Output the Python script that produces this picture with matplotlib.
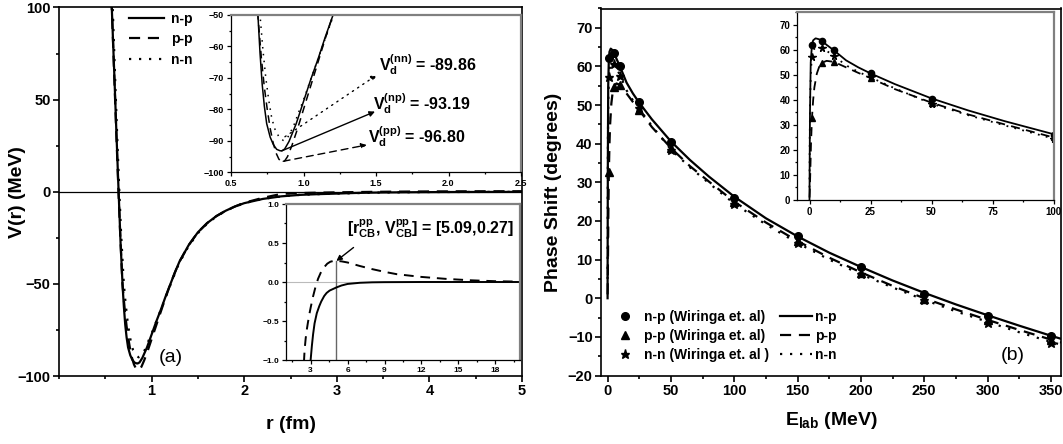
import matplotlib
matplotlib.use('Agg')
import matplotlib.pyplot as plt
from matplotlib.lines import Line2D
from matplotlib.ticker import MultipleLocator

plt.rcParams['font.family'] = ['Liberation Sans', 'DejaVu Sans']
plt.rcParams['font.weight'] = 'bold'
plt.rcParams['axes.labelweight'] = 'bold'
plt.rcParams['mathtext.fontset'] = 'custom'
plt.rcParams['mathtext.rm'] = 'Liberation Sans'
plt.rcParams['mathtext.bf'] = 'Liberation Sans:bold'
plt.rcParams['mathtext.it'] = 'Liberation Sans:italic'

# ---- panel (a): potentials V(r) ----
r_np = [0.55, 0.57, 0.60, 0.62, 0.64, 0.665, 0.688, 0.70, 0.715, 0.73, 0.746, 0.77, 0.792,
        0.815, 0.838, 0.85, 0.87, 0.90, 0.95, 1.0, 1.05, 1.1, 1.15, 1.2, 1.25, 1.3, 1.4,
        1.5, 1.6, 1.7, 1.8, 1.9, 2.0, 2.2, 2.4, 2.6, 2.8, 3.0, 3.1, 3.2, 3.32, 3.5, 3.7,
        3.86, 4.1, 4.3, 4.54, 5.09, 5.5, 6.0, 7.0, 8.0, 9.0, 12.0, 20.0]
v_np = [125, 100, 60, 32, 5, -28, -52, -62, -72, -79, -84.5, -88.8, -91.2,
        -92.7, -93.15, -93.19, -92.6, -90.2, -84.5, -77.5, -70.5, -64, -57, -50.5, -44, -38, -29,
        -22, -17, -13.2, -10.3, -8.0, -6.2, -3.9, -2.5, -1.7, -1.3, -1.0, -0.82, -0.67, -0.53, -0.40, -0.31,
        -0.25, -0.18, -0.14, -0.11, -0.07, -0.045, -0.025, -0.01, -0.004, -0.002, 0.0, 0.0]

r_pp = [0.55, 0.57, 0.60, 0.62, 0.64, 0.66, 0.685, 0.71, 0.73, 0.75, 0.77, 0.79, 0.81,
        0.83, 0.85, 0.87, 0.89, 0.92, 0.96, 1.0, 1.05, 1.1, 1.15, 1.2, 1.25, 1.3, 1.4,
        1.5, 1.6, 1.7, 1.8, 1.9, 2.0, 2.2, 2.4, 2.51, 2.6, 2.7, 2.78, 2.9, 3.0, 3.19, 3.4,
        3.6, 3.85, 4.1, 4.35, 4.6, 4.85, 5.09, 5.5, 6.0, 7.0, 8.0, 9.0, 10.0, 12.0, 14.0,
        16.0, 18.0, 20.0]
v_pp = [125, 100, 58, 30, 3, -22, -50, -64, -73, -80, -86, -90.5, -93.8,
        -95.8, -96.8, -96.4, -95, -91.5, -86, -80, -72.5, -65, -57.5, -50.5, -44, -38, -29,
        -22, -17, -13.2, -10.3, -8.0, -6.0, -3.3, -1.2, -0.87, -0.72, -0.6, -0.52, -0.41, -0.33, -0.19, -0.06,
        0.04, 0.13, 0.19, 0.235, 0.26, 0.27, 0.27, 0.265, 0.25, 0.205, 0.165, 0.13, 0.10, 0.065, 0.04,
        0.022, 0.01, 0.005]

r_nn = [0.56, 0.58, 0.61, 0.63, 0.65, 0.67, 0.70, 0.72, 0.74, 0.76, 0.78, 0.80, 0.83,
        0.86, 0.89, 0.93, 0.97, 1.0, 1.05, 1.1, 1.15, 1.2, 1.25, 1.3, 1.4, 1.5, 1.6, 1.7,
        1.8, 1.9, 2.0, 2.2, 2.4, 2.6, 2.8, 3.0, 3.5, 4.0, 5.0]
v_nn = [125, 100, 56, 28, 2, -22, -50, -61, -70, -77, -82.5, -86, -88.7,
        -89.86, -89, -85.5, -80.5, -77, -70.5, -64, -57.5, -51, -44.5, -38.5, -29.5, -22.5, -17.3, -13.4,
        -10.4, -8.1, -6.2, -3.9, -2.5, -1.7, -1.3, -1.0, -0.4, -0.15, -0.05]

# ---- panel (b): 1S0 phase shifts ----
E_np = [0, 0.05, 0.2, 0.5, 1, 1.5, 2.5, 4, 5, 7, 10, 15, 20, 25, 35, 50, 65, 80, 100,
        125, 150, 175, 200, 225, 250, 275, 300, 325, 350, 360]
d_np = [0, 12, 35, 55, 62, 63.8, 64.6, 64.2, 63.7, 62, 59.8, 55.8, 53, 50.6, 46.3, 40.6,
        35.8, 31.5, 26.3, 20.7, 16.0, 11.8, 8.1, 4.6, 1.4, -1.6, -4.4, -7.1, -9.7, -10.7]

E_pp = [0, 0.1, 0.3, 0.6, 1, 1.5, 2, 3, 4, 5, 7, 10, 15, 20, 25, 35, 50, 65, 80, 100,
        125, 150, 175, 200, 225, 250, 275, 300, 325, 350, 360]
d_pp = [1, 3, 10, 22, 32.7, 40, 45, 50.5, 53.3, 54.8, 55.6, 55.2, 53, 50.8, 48.7, 44.3,
        38.9, 34.2, 30.2, 25.0, 19.6, 14.8, 10.5, 6.7, 3.2, 0.0, -2.9, -5.6, -8.2, -10.7, -11.6]

E_nn = [0, 0.1, 0.3, 0.6, 1, 2, 3, 5, 7, 10, 15, 20, 25, 35, 50, 65, 80, 100,
        125, 150, 175, 200, 225, 250, 275, 300, 325, 350, 360]
d_nn = [5, 25, 42, 52, 57.3, 60.5, 61.2, 60.9, 59.6, 57.6, 53.8, 51.2, 49.0, 44.6, 38.5,
        33.9, 29.8, 24.5, 19.1, 14.3, 10.0, 6.2, 2.8, -0.4, -3.4, -6.1, -8.8, -11.3, -12.2]

# Wiringa et al. points
E_w = [1, 5, 10, 25, 50, 100, 150, 200, 250, 300, 350]
np_w = [62.1, 63.6, 60.0, 50.9, 40.5, 26.0, 16.0, 8.0, 1.2, -4.5, -9.7]
pp_w = [32.7, 54.8, 55.2, 48.7, 38.9, 25.0, 14.8, 6.6, -0.3, -5.7, -10.8]
nn_w = [57.2, 60.7, 57.6, 49.2, 38.5, 24.5, 14.3, 6.2, -0.5, -6.4, -11.6]

W, H = 1063, 444


def box(l, t, r, b):
    return [l / W, 1 - b / H, (r - l) / W, (b - t) / H]


def style(ax, size, major=4, minor=2, lw=1.0):
    ax.tick_params(which='both', direction='out', width=lw, labelsize=size,
                   top=False, right=False, pad=2)
    ax.tick_params(which='major', length=major)
    ax.tick_params(which='minor', length=minor)
    for s in ax.spines.values():
        s.set_linewidth(lw)


def inset_frame(ax):
    for s in ('top', 'right'):
        ax.spines[s].set_color('#808080')
        ax.spines[s].set_linewidth(1.6)


DASH = (5, 3.5)
DOT = (1, 3.5)


def potentials(ax, lw):
    ax.plot(r_np, v_np, color='k', lw=lw)
    ax.plot(r_pp, v_pp, color='k', lw=lw, dashes=DASH)
    ax.plot(r_nn, v_nn, color='k', lw=lw, dashes=DOT)


def phases(ax, lw, ms):
    ax.plot(E_np, d_np, color='k', lw=lw)
    ax.plot(E_pp, d_pp, color='k', lw=lw, dashes=DASH)
    ax.plot(E_nn, d_nn, color='k', lw=lw, dashes=DOT)
    ax.plot(E_w, np_w, 'o', color='k', ms=ms)
    ax.plot(E_w, pp_w, '^', color='k', ms=ms)
    ax.plot(E_w, nn_w, '*', color='k', ms=ms + 1)


fig = plt.figure(figsize=(W / 100, H / 100), dpi=100)

# ---------------- (a) ----------------
ax1 = fig.add_axes(box(59, 7.5, 522, 376))
ax1.axhline(0, color='k', lw=0.9)
potentials(ax1, 1.6)
ax1.set_xlim(0, 5)
ax1.set_ylim(-100, 100)
ax1.set_xticks([1, 2, 3, 4, 5])
ax1.xaxis.set_minor_locator(MultipleLocator(0.5))
ax1.set_yticks([-100, -50, 0, 50, 100])
ax1.yaxis.set_minor_locator(MultipleLocator(25))
style(ax1, 10.5, lw=1.2)
ax1.set_xlabel('r (fm)', fontsize=14, labelpad=13)
ax1.set_ylabel('V(r) (MeV)', fontsize=14)
ax1.yaxis.set_label_coords(-0.071, 0.5)
ax1.text(171, 444 - 357, '(a)', transform=None, fontsize=14, fontweight='normal',
         ha='center', va='center')
ax1.legend(handles=[Line2D([], [], color='k', lw=1.6),
                    Line2D([], [], color='k', lw=1.6, dashes=DASH),
                    Line2D([], [], color='k', lw=1.6, dashes=DOT)],
           labels=['n-p', 'p-p', 'n-n'], loc='upper left',
           bbox_to_anchor=(129 / W, 1 - 12 / H), bbox_transform=fig.transFigure,
           frameon=False, fontsize=10, handlelength=2.5, handletextpad=0.5,
           labelspacing=0.45, borderpad=0, borderaxespad=0)

# inset: potential minimum
ins1 = fig.add_axes(box(231, 15, 521, 172.3))
potentials(ins1, 1.1)
ins1.set_xlim(0.5, 2.5)
ins1.set_ylim(-100, -50)
ins1.xaxis.set_major_locator(MultipleLocator(0.5))
ins1.xaxis.set_minor_locator(MultipleLocator(0.25))
ins1.yaxis.set_major_locator(MultipleLocator(10))
ins1.yaxis.set_minor_locator(MultipleLocator(5))
ins1.xaxis.set_major_formatter('{x:.1f}')
style(ins1, 6.5, major=3, minor=1.5, lw=0.9)
inset_frame(ins1)
labels = [(r'V$_\mathbf{d}^\mathbf{(nn)}$ = -89.86', (1.52, -65.9), (0.872, -88.7), (1.505, -69.1), DOT),
          (r'V$_\mathbf{d}^\mathbf{(np)}$ = -93.19', (1.48, -78.1), (0.85, -93.19), (1.493, -80.7), None),
          (r'V$_\mathbf{d}^\mathbf{(pp)}$ = -96.80', (1.447, -88.7), (0.86, -96.5), (1.436, -91.3), DASH)]
for txt, tpos, p0, p1, ls in labels:
    ins1.text(tpos[0], tpos[1], txt, fontsize=11.5, ha='left', va='center')
    props = dict(arrowstyle='-|>', color='k', lw=1.0, mutation_scale=8,
                 shrinkA=0, shrinkB=0)
    if ls is not None:
        props['linestyle'] = (0, ls)
    ins1.annotate('', xy=p1, xytext=p0, arrowprops=props)

# inset: Coulomb barrier
ins2 = fig.add_axes(box(286, 204, 520, 360))
ins2.axhline(0, color='#bbbbbb', lw=0.8)
ins2.plot([5.09, 5.09], [-1, 0.27], color='#666666', lw=1.0)
ins2.plot(r_np, v_np, color='k', lw=1.4)
ins2.plot(r_pp, v_pp, color='k', lw=1.4, dashes=DASH)
ins2.set_xlim(1, 20)
ins2.set_ylim(-1, 1)
ins2.set_xticks([3, 6, 9, 12, 15, 18])
ins2.xaxis.set_minor_locator(MultipleLocator(1.5))
ins2.yaxis.set_major_locator(MultipleLocator(0.5))
ins2.yaxis.set_minor_locator(MultipleLocator(0.25))
ins2.yaxis.set_major_formatter('{x:.1f}')
style(ins2, 6, major=3, minor=1.5, lw=0.9)
inset_frame(ins2)
ins2.annotate(r'[r$_\mathbf{CB}^\mathbf{pp}$, V$_\mathbf{CB}^\mathbf{pp}$] = [5.09,0.27]',
              xy=(5.09, 0.27), xytext=(5.95, 0.69), fontsize=11.5, ha='left', va='center',
              arrowprops=dict(arrowstyle='-|>', color='k', lw=1.0, mutation_scale=8,
                              shrinkA=6, shrinkB=0, relpos=(0.1, 0.0)))

# ---------------- (b) ----------------
ax2 = fig.add_axes(box(601, 8.5, 1061, 375.5))
phases(ax2, 1.6, 5.5)
ax2.set_xlim(-5.2, 358)
ax2.set_ylim(-20, 75)
ax2.xaxis.set_major_locator(MultipleLocator(50))
ax2.xaxis.set_minor_locator(MultipleLocator(25))
ax2.set_yticks(range(-20, 71, 10))
ax2.yaxis.set_minor_locator(MultipleLocator(5))
style(ax2, 10.5, lw=1.2)
ax2.set_xlabel(r'E$_\mathbf{lab}$ (MeV)', fontsize=14, labelpad=9)
ax2.set_ylabel('Phase Shift (degrees)', fontsize=14)
ax2.yaxis.set_label_coords(-0.085, 0.5)
ax2.text(1013, 444 - 355, '(b)', transform=None, fontsize=14, fontweight='normal',
         ha='center', va='center')
h = [Line2D([], [], ls='none', marker='o', color='k', ms=5.5),
     Line2D([], [], ls='none', marker='^', color='k', ms=5.5),
     Line2D([], [], ls='none', marker='*', color='k', ms=6.5),
     Line2D([], [], color='k', lw=1.6),
     Line2D([], [], color='k', lw=1.6, dashes=DASH),
     Line2D([], [], color='k', lw=1.6, dashes=DOT)]
lab = ['n-p (Wiringa et. al)', 'p-p (Wiringa et. al)', 'n-n (Wiringa et. al )',
       'n-p', 'p-p', 'n-n']
ax2.legend(handles=h, labels=lab, ncol=2, loc='upper left',
           bbox_to_anchor=(609 / W, 1 - 310 / H), bbox_transform=fig.transFigure,
           frameon=False, fontsize=10, handlelength=2.3, handletextpad=0.2,
           columnspacing=0.8, labelspacing=0.35, borderpad=0, borderaxespad=0)

ins3 = fig.add_axes(box(797.3, 12.3, 1053.5, 200))
phases(ins3, 1.3, 4.5)
ins3.set_xlim(-5, 100)
ins3.set_ylim(0, 75)
ins3.xaxis.set_major_locator(MultipleLocator(25))
ins3.xaxis.set_minor_locator(MultipleLocator(12.5))
ins3.set_yticks(range(0, 71, 10))
ins3.yaxis.set_minor_locator(MultipleLocator(5))
style(ins3, 7, major=3, minor=1.5, lw=0.9)
inset_frame(ins3)

fig.savefig('out.png', dpi=100)
